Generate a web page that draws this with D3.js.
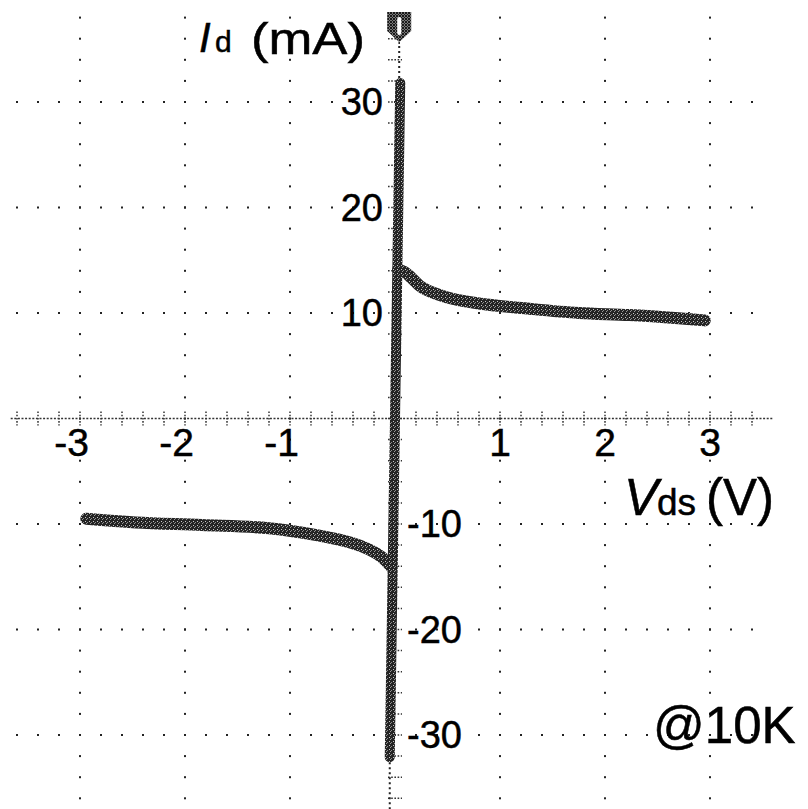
<!DOCTYPE html>
<html><head><meta charset="utf-8">
<script src="https://cdn.jsdelivr.net/npm/d3@7"></script>
<style>html,body{margin:0;padding:0;background:#fff}svg{display:block}text{font-family:"Liberation Sans",Arial,sans-serif;fill:#000;stroke:#000;stroke-width:0.5}</style>
</head><body><svg id="c" width="808" height="809"></svg>
<script>
// ---- data ----
const xTickValues = [-3, -2, -1, 1, 2, 3];
const xTickLabels = ["-3", "-2", "-1", "1", "2", "3"];
const yTickValues = [30, 20, 10, -10, -20, -30];
const yTickLabels = ["30", "20", "10", "-10", "-20", "-30"];
// positive branch (Vds in V, Id in mA)
const posV = [0.03, 0.09, 0.16, 0.26, 0.49, 0.80, 1.28, 1.75, 2.23, 2.70, 2.95];
const posI = [14.1, 13.9, 13.3, 12.4, 11.5, 10.9, 10.4, 10.0, 9.8, 9.5, 9.3];
// negative branch
const negV = [-2.94, -2.47, -1.84, -1.20, -0.72, -0.41, -0.25, -0.13, -0.04];
const negI = [-9.5, -9.85, -10.1, -10.4, -11.1, -11.8, -12.4, -13.1, -14.0];
// steep central trace
const midV = [-0.05, 0.0, 0.05];
const midI = [-32.1, 0, 31.8];
// sparse dotted tails of the central trace
const tailTopV = [0.04, 0.04];
const tailTopI = [31.8, 35.5];
const tailBotV = [-0.05, -0.05];
const tailBotI = [-32.1, -37.5];

const svg = d3.select("#c");
const x = d3.scaleLinear().domain([-3, 3]).range([80, 710]);
const y = d3.scaleLinear().domain([-30, 30]).range([735, 102]);

// grain pattern for the oscilloscope trace
const defs = svg.append("defs");
const pat = defs.append("pattern").attr("id", "grain").attr("width", 4).attr("height", 4).attr("patternUnits", "userSpaceOnUse");
pat.append("rect").attr("width", 4).attr("height", 4).attr("fill", "#242424");
pat.append("rect").attr("x", 1).attr("y", 1).attr("width", 1).attr("height", 1).attr("fill", "#c8c8c8");
pat.append("rect").attr("x", 3).attr("y", 2).attr("width", 1).attr("height", 1).attr("fill", "#8a8a8a");
pat.append("rect").attr("x", 2).attr("y", 3).attr("width", 1).attr("height", 1).attr("fill", "#999");
const pat2 = defs.append("pattern").attr("id", "grain2").attr("width", 3).attr("height", 3).attr("patternUnits", "userSpaceOnUse");
pat2.append("rect").attr("width", 3).attr("height", 3).attr("fill", "#777");
pat2.append("rect").attr("x", 0).attr("y", 0).attr("width", 2).attr("height", 2).attr("fill", "#1a1a1a");
pat2.append("rect").attr("x", 2).attr("y", 2).attr("width", 1).attr("height", 1).attr("fill", "#1a1a1a");

// ---- dotted grid ----
const g = svg.append("g");
const gridDotI = d3.range(-38, 38.01, 2);
const gridDotV = d3.range(-3.6, 3.41, 0.2);
xTickValues.forEach(v => {
  g.selectAll(null).data(gridDotI).enter().append("rect")
    .attr("x", d => x(v) - 1).attr("y", d => y(d) - 1)
    .attr("width", 2).attr("height", 2).attr("fill", "#222");
});
yTickValues.forEach(i => {
  g.selectAll(null).data(gridDotV).enter().append("rect")
    .attr("x", d => x(d) - 1).attr("y", d => y(i) - 1)
    .attr("width", 2).attr("height", 2).attr("fill", "#222");
});

// ---- x axis (dotted line with minor ticks) ----
svg.append("line").attr("x1", x(-3.66)).attr("x2", x(3.6)).attr("y1", y(0)).attr("y2", y(0))
  .attr("stroke", "#333").attr("stroke-width", 1.3).attr("stroke-dasharray", "2,1.6");
svg.selectAll(null).data(gridDotV).enter().append("line")
  .attr("x1", d => x(d)).attr("x2", d => x(d))
  .attr("y1", y(0) - 7).attr("y2", y(0) + 7)
  .attr("stroke", "#333").attr("stroke-width", 1.5).attr("stroke-dasharray", "1.6,1.6");
// y axis minor ticks
svg.selectAll(null).data(gridDotI).enter().append("line")
  .attr("x1", d => x(0) - 7).attr("x2", d => x(0) + 7)
  .attr("y1", d => y(d)).attr("y2", d => y(d))
  .attr("stroke", "#333").attr("stroke-width", 1.5).attr("stroke-dasharray", "1.6,1.6");

// ---- tick labels ----
svg.selectAll(null).data(xTickValues).enter().append("text")
  .attr("x", (d) => d < 0 ? x(d) + 9 : x(d))
  .attr("y", 456)
  .attr("text-anchor", d => d < 0 ? "end" : "middle")
  .attr("font-size", 39)
  .text((d, i) => xTickLabels[i]);
svg.selectAll(null).data(yTickValues).enter().append("text")
  .attr("x", d => d > 0 ? x(0) - 12 : x(0) + 12)
  .attr("y", d => y(d) + 13)
  .attr("text-anchor", d => d > 0 ? "end" : "start")
  .attr("font-size", 38)
  .text((d, i) => yTickLabels[i]);

// ---- trace ----
const line = d3.line().x(d => x(d[0])).y(d => y(d[1])).curve(d3.curveCatmullRom.alpha(0.5));
const lineV = d3.line().x(d => x(d[0])).y(d => y(d[1]));
const zip = (a, b) => a.map((v, i) => [v, b[i]]);
svg.append("path").attr("d", lineV(zip(tailTopV, tailTopI))).attr("fill", "none")
  .attr("stroke", "#222").attr("stroke-width", 2).attr("stroke-dasharray", "2,3");
svg.append("path").attr("d", lineV(zip(tailBotV, tailBotI))).attr("fill", "none")
  .attr("stroke", "#222").attr("stroke-width", 2).attr("stroke-dasharray", "2,3");
svg.append("path").attr("d", lineV(zip(midV, midI))).attr("fill", "none")
  .attr("stroke", "url(#grain)").attr("stroke-width", 10).attr("stroke-linecap", "round");
svg.append("path").attr("d", line(zip(posV, posI))).attr("fill", "none")
  .attr("stroke", "url(#grain)").attr("stroke-width", 12).attr("stroke-linecap", "round");
svg.append("path").attr("d", line(zip(negV, negI))).attr("fill", "none")
  .attr("stroke", "url(#grain)").attr("stroke-width", 12).attr("stroke-linecap", "round");

// ---- trigger marker at top ----
const mx = x(0.04);
svg.append("path")
  .attr("d", `M${mx-12},12 H${mx+12} V31 L${mx},42 L${mx-12},31 Z`)
  .attr("fill", "url(#grain2)");
svg.append("rect").attr("x", mx - 2).attr("y", 17).attr("width", 4).attr("height", 18).attr("rx", 2).attr("fill", "#fff");
svg.append("line").attr("x1", mx).attr("x2", mx).attr("y1", 42).attr("y2", y(tailTopI[1]))
  .attr("stroke", "#222").attr("stroke-width", 1.5).attr("stroke-dasharray", "2,3");

// ---- axis titles ----
const t1 = svg.append("text").attr("y", 52);
t1.append("tspan").attr("x", 199).attr("font-size", 42).attr("font-style", "italic").text("I");
t1.append("tspan").attr("x", 215).attr("font-size", 30).text("d");
svg.append("text").attr("x", 251).attr("y", 54).attr("font-size", 44)
  .attr("textLength", 114).attr("lengthAdjust", "spacingAndGlyphs").text("(mA)");

const t2 = svg.append("text").attr("y", 515);
t2.append("tspan").attr("x", 624).attr("font-size", 51).attr("font-style", "italic").text("V");
t2.append("tspan").attr("x", 657).attr("font-size", 37).text("ds");
t2.append("tspan").attr("x", 706).attr("font-size", 51).text("(V)");

svg.append("text").attr("x", 653).attr("y", 743).attr("font-size", 51).text("@10K");
</script>
</body></html>
